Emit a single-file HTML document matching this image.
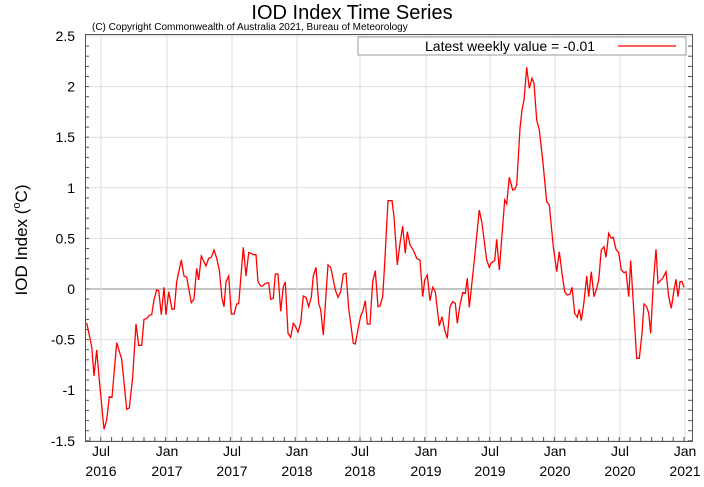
<!DOCTYPE html>
<html><head><meta charset="utf-8"><style>body{margin:0;background:#fff}svg{display:block;font-family:"Liberation Sans",sans-serif}</style></head>
<body>
<svg id="s" width="704" height="487" viewBox="0 0 704 487" xmlns="http://www.w3.org/2000/svg">
<rect width="704" height="487" fill="#fff"/>
<text x="352" y="19" font-size="20" text-anchor="middle">IOD Index Time Series</text>
<text x="92" y="30" font-size="10">(C) Copyright Commonwealth of Australia 2021, Bureau of Meteorology</text>
<g id="grid"></g>
<polyline id="d" fill="none" stroke="#f00" stroke-width="1.3" points=""/>
<rect x="358" y="37" width="328" height="18" fill="#fff" stroke="#999" stroke-width="1"/>
<text x="425" y="51" font-size="14">Latest weekly value = -0.01</text>
<line x1="618" y1="46" x2="676" y2="46" stroke="#f00" stroke-width="1.3"/>
<rect x="85.5" y="34.5" width="607" height="407" fill="none" stroke="#555" stroke-width="1"/>
<text transform="translate(27,240) rotate(-90)" font-size="17" text-anchor="middle">IOD Index (<tspan font-size="11" dy="-7">o</tspan><tspan dy="7">C)</tspan></text>
</svg>
<script>
var g=document.getElementById('grid'),h='';
function Y(v){return 289-101.2*v;}
for(var v=-1.5;v<=2.51;v+=0.5){var y=Y(v).toFixed(1);h+='<line x1="85" x2="692" y1="'+y+'" y2="'+y+'" stroke="'+(Math.abs(v)<0.01?'#888':'#ddd')+'"/>';h+='<text x="75" y="'+(+y+5)+'" font-size="14" text-anchor="end">'+v+'</text>';}
for(var v=-1.5;v<=2.5;v+=0.1){var y=Y(v).toFixed(1);h+='<line x1="85" x2="89" y1="'+y+'" y2="'+y+'" stroke="#555"/><line x1="688" x2="692" y1="'+y+'" y2="'+y+'" stroke="#555"/>';}
var xs=[101,167,232,297,360,426,490,555,620,685],m=['Jul','Jan','Jul','Jan','Jul','Jan','Jul','Jan','Jul','Jan'],yr=['2016','2017','2017','2018','2018','2019','2019','2020','2020','2021'];
for(var i=0;i<xs.length;i++){h+='<line x1="'+xs[i]+'" x2="'+xs[i]+'" y1="34" y2="441" stroke="#ddd"/>';h+='<text x="'+xs[i]+'" y="456" font-size="14" text-anchor="middle">'+m[i]+'</text><text x="'+xs[i]+'" y="476" font-size="14" text-anchor="middle">'+yr[i]+'</text>';}
for(var x=90;x<692;x+=10.8){h+='<line x1="'+x.toFixed(1)+'" x2="'+x.toFixed(1)+'" y1="437" y2="441" stroke="#555"/>';}
g.innerHTML=h;
var a=[20,368,35,440,42,528,50,450,58,540,72,688,80,660,88,590,96,592,110,428,125,478,140,628,148,624,158,530,168,372,176,436,185,436,192,358,200,356,208,346,215,344,222,300,230,270,236,272,244,344,252,262,258,344,266,275,276,328,283,327,290,245,304,180,312,228,320,232,334,308,342,298,350,205,356,240,364,168,378,198,386,175,394,172,402,150,410,175,418,210,426,295,432,320,438,245,446,228,454,342,462,342,470,312,476,311,490,142,498,228,506,158,514,160,520,164,528,164,534,245,542,258,548,258,556,250,566,248,572,298,580,295,586,222,594,222,602,334,610,260,616,246,624,400,632,412,640,370,646,378,654,396,662,368,670,288,678,292,686,320,694,292,700,228,708,202,716,310,722,330,730,405,744,195,752,202,760,240,766,270,774,292,782,275,790,222,798,220,806,325,820,430,826,432,834,388,842,348,848,335,856,302,862,372,870,372,878,245,886,212,894,320,900,318];
var b=[0,768,8,740,14,640,24,452,36,452,42,500,52,645,60,580,68,528,76,610,82,545,90,585,100,600,110,625,120,630,128,740,134,690,142,675,150,752,158,712,166,725,178,828,186,800,194,840,202,865,210,770,218,755,226,760,232,820,240,765,248,728,256,730,262,685,268,772,282,640,298,480,306,520,320,630,328,652,334,638,344,632,350,568,358,660,374,450,380,462,388,382,398,420,404,418,410,405,420,235,426,180,432,150,440,52,448,115,456,85,462,100,470,210,478,240,488,330,500,455,508,465,520,590,530,665,538,605,546,670,554,725,562,735,570,732,576,712,584,790,592,802,598,778,604,812,612,755,620,678,626,740,634,665,642,740,650,715,656,690,664,600,672,590,678,622,686,550,694,565,700,562,708,598,716,608,724,660,732,668,738,665,746,740,752,632,770,925,778,925,786,850,792,762,800,770,806,790,812,850,820,700,828,598,834,700,840,693,848,685,858,665,866,740,874,775,882,720,888,688,894,740,900,695,906,695,912,712];
var p=[];for(var i=0;i<a.length;i+=2)p.push((80+a[i]/3).toFixed(1)+','+(200+a[i+1]/3).toFixed(1));
for(var i=0;i<b.length;i+=2)p.push((380+b[i]/3).toFixed(1)+','+(50+b[i+1]/3).toFixed(1));
document.getElementById('d').setAttribute('points',p.join(' '));
</script>
</body></html>
